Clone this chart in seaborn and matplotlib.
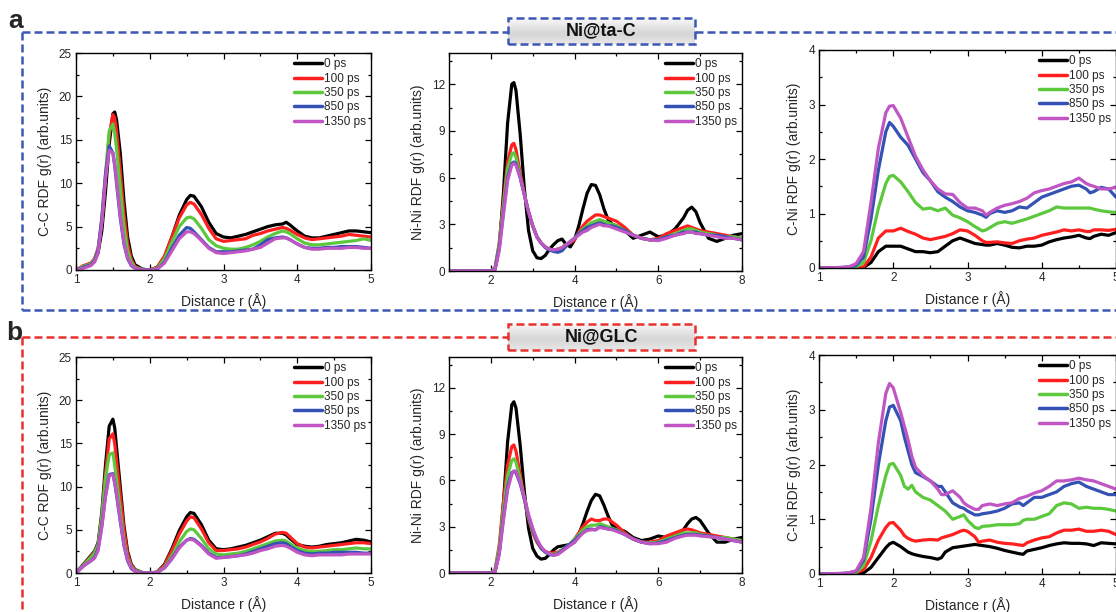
import numpy as np
import pandas as pd
import matplotlib
matplotlib.use("Agg")
import matplotlib.pyplot as plt
import seaborn as sns
from matplotlib.lines import Line2D
from matplotlib.patches import Rectangle
from matplotlib.ticker import MultipleLocator

# ---------------- data ----------------
times = ["0 ps", "100 ps", "350 ps", "850 ps", "1350 ps"]
colors = ["#000000", "#ff1f1f", "#5cc83c", "#3352b3", "#c056c4"]

# C-C RDF (shared r grid for both systems)
cc_r = [1.0, 1.1, 1.2, 1.25, 1.3, 1.35, 1.4, 1.45, 1.5, 1.525, 1.55, 1.6, 1.65, 1.7, 1.75, 1.8, 1.9, 2.0, 2.1, 2.2,
        2.3, 2.4, 2.5, 2.55, 2.6, 2.7, 2.8, 2.9, 3.0, 3.1, 3.2, 3.3, 3.4, 3.5, 3.6, 3.7, 3.8, 3.85, 3.9, 4.0,
        4.1, 4.2, 4.3, 4.4, 4.5, 4.6, 4.7, 4.8, 4.9, 5.0]
cc_tac_0 = [0, 0.3, 0.6, 1.0, 2.0, 4.5, 9.0, 14.5, 18.0, 18.2, 17.3, 13.5, 8.0, 3.8, 1.6, 0.6, 0.1, 0.0, 0.3, 1.5,
            3.8, 6.3, 8.1, 8.6, 8.5, 7.3, 5.5, 4.2, 3.8, 3.7, 3.9, 4.1, 4.4, 4.7, 5.0, 5.2, 5.3, 5.5, 5.2, 4.5,
            3.9, 3.7, 3.7, 3.9, 4.1, 4.3, 4.5, 4.5, 4.4, 4.3]
cc_tac_100 = [0, 0.5, 0.8, 1.3, 2.5, 5.5, 10.5, 15.5, 17.9, 17.5, 16.0, 11.5, 6.5, 3.0, 1.2, 0.4, 0.05, 0.0, 0.3, 1.6,
              3.8, 6.0, 7.5, 7.8, 7.6, 6.4, 4.8, 3.6, 3.3, 3.4, 3.5, 3.6, 4.0, 4.2, 4.5, 4.7, 4.9, 4.8, 4.6, 4.1,
              3.7, 3.5, 3.6, 3.7, 3.8, 3.9, 4.1, 4.0, 3.9, 3.8]
cc_tac_350 = [0, 0.4, 0.7, 1.2, 2.4, 5.8, 11.0, 16.0, 16.8, 15.8, 14.0, 9.5, 5.0, 2.2, 0.9, 0.3, 0.05, 0.0, 0.2, 1.3,
              3.2, 5.0, 6.0, 6.1, 5.9, 4.8, 3.5, 2.8, 2.5, 2.4, 2.4, 2.6, 2.9, 3.3, 3.8, 4.2, 4.5, 4.4, 4.2, 3.6,
              3.1, 2.9, 2.9, 3.0, 3.1, 3.2, 3.3, 3.4, 3.6, 3.4]
cc_tac_850 = [0, 0.3, 0.6, 1.0, 2.3, 6.0, 11.0, 14.3, 13.5, 12.0, 10.0, 6.0, 3.0, 1.3, 0.5, 0.2, 0.0, 0.0, 0.1, 0.9,
              2.5, 4.0, 4.9, 4.8, 4.4, 3.5, 2.6, 2.1, 2.1, 2.1, 2.2, 2.3, 2.4, 2.9, 3.5, 3.7, 3.8, 3.7, 3.5, 3.0,
              2.6, 2.5, 2.5, 2.6, 2.6, 2.7, 2.7, 2.7, 2.6, 2.5]
cc_tac_1350 = [0, 0.2, 0.5, 0.9, 2.0, 5.5, 10.5, 13.8, 13.5, 12.2, 10.3, 6.3, 3.2, 1.4, 0.6, 0.2, 0.0, 0.0, 0.1, 0.8,
               2.2, 3.6, 4.4, 4.4, 4.2, 3.4, 2.5, 2.0, 1.9, 2.0, 2.1, 2.2, 2.4, 2.6, 3.1, 3.6, 3.7, 3.7, 3.5, 3.0,
               2.6, 2.4, 2.4, 2.5, 2.5, 2.5, 2.6, 2.6, 2.5, 2.5]
cc_glc_0 = [0, 1.0, 2.0, 2.5, 3.5, 7.0, 12.5, 17.0, 17.8, 16.8, 14.5, 10.0, 5.5, 2.5, 1.0, 0.4, 0.05, 0.0, 0.1, 1.0,
            2.8, 4.9, 6.5, 7.0, 6.9, 5.6, 3.8, 2.8, 2.7, 2.8, 3.0, 3.2, 3.5, 3.8, 4.2, 4.6, 4.6, 4.4, 4.0, 3.3,
            3.1, 3.0, 3.1, 3.3, 3.4, 3.5, 3.7, 3.9, 3.8, 3.6]
cc_glc_100 = [0, 0.9, 1.9, 2.4, 3.3, 6.5, 11.5, 15.5, 16.1, 15.0, 13.0, 9.0, 5.0, 2.2, 0.9, 0.3, 0.05, 0.0, 0.1, 0.9,
              2.6, 4.5, 6.0, 6.5, 6.4, 5.1, 3.5, 2.6, 2.6, 2.7, 2.8, 3.0, 3.3, 3.6, 4.0, 4.5, 4.7, 4.6, 4.2, 3.4,
              3.0, 2.9, 3.0, 3.1, 3.2, 3.3, 3.4, 3.5, 3.5, 3.4]
cc_glc_350 = [0, 0.9, 1.8, 2.3, 3.3, 6.5, 11.0, 13.7, 13.9, 12.5, 10.8, 7.2, 3.8, 1.7, 0.7, 0.3, 0.05, 0.0, 0.1, 0.7,
              2.0, 3.6, 4.8, 5.1, 5.0, 4.0, 2.8, 2.2, 2.1, 2.2, 2.3, 2.5, 2.8, 3.1, 3.4, 3.7, 3.8, 3.7, 3.4, 2.9,
              2.6, 2.5, 2.5, 2.6, 2.7, 2.7, 2.8, 2.9, 2.8, 2.8]
cc_glc_850 = [0, 0.8, 1.4, 1.8, 2.8, 5.5, 9.0, 11.4, 11.5, 10.4, 9.0, 6.0, 3.2, 1.4, 0.5, 0.2, 0.0, 0.0, 0.05, 0.6,
              1.7, 3.0, 3.8, 4.0, 3.9, 3.2, 2.3, 1.8, 1.8, 1.9, 2.0, 2.2, 2.5, 2.8, 3.1, 3.4, 3.5, 3.4, 3.1, 2.6,
              2.3, 2.2, 2.3, 2.3, 2.4, 2.4, 2.4, 2.4, 2.3, 2.3]
cc_glc_1350 = [0, 0.8, 1.4, 1.7, 2.6, 5.3, 8.8, 11.3, 11.4, 10.5, 9.2, 6.2, 3.3, 1.5, 0.6, 0.2, 0.0, 0.0, 0.05, 0.6,
               1.6, 2.9, 3.8, 3.9, 3.8, 3.1, 2.2, 1.7, 1.8, 1.9, 2.0, 2.1, 2.3, 2.6, 2.8, 3.1, 3.2, 3.1, 2.9, 2.4,
               2.1, 2.0, 2.1, 2.1, 2.1, 2.1, 2.2, 2.2, 2.2, 2.2]

# Ni-Ni RDF
nn_r = [1.0, 2.0, 2.1, 2.2, 2.3, 2.4, 2.5, 2.55, 2.6, 2.7, 2.8, 2.9, 3.0, 3.1, 3.2, 3.3, 3.4, 3.5, 3.6, 3.7,
        3.8, 3.9, 4.0, 4.1, 4.2, 4.3, 4.4, 4.5, 4.6, 4.7, 4.8, 4.9, 5.0, 5.2, 5.4, 5.6, 5.8, 6.0, 6.2, 6.4,
        6.6, 6.7, 6.8, 6.9, 7.0, 7.2, 7.4, 7.6, 7.8, 8.0]
nn_tac_0 = [0, 0, 0.1, 1.5, 5.0, 9.5, 12.0, 12.1, 11.6, 8.8, 5.3, 2.6, 1.3, 0.85, 0.8, 1.0, 1.4, 1.7, 1.95, 2.05,
            1.7, 1.55, 2.0, 2.9, 4.0, 5.0, 5.55, 5.5, 4.9, 4.0, 3.3, 3.0, 2.9, 2.6, 2.1, 2.3, 2.5, 2.2, 2.3, 2.7,
            3.4, 3.9, 4.1, 3.8, 3.1, 2.1, 1.9, 2.1, 2.3, 2.4]
nn_tac_100 = [0, 0, 0.2, 1.8, 4.5, 7.0, 8.1, 8.2, 7.8, 6.3, 4.9, 3.8, 2.9, 2.2, 1.8, 1.55, 1.4, 1.35, 1.4, 1.5,
              1.7, 1.8, 2.0, 2.5, 2.9, 3.2, 3.4, 3.6, 3.6, 3.5, 3.4, 3.3, 3.2, 2.8, 2.3, 2.1, 2.0, 2.1, 2.4, 2.6,
              2.8, 2.9, 2.8, 2.7, 2.6, 2.5, 2.4, 2.3, 2.2, 2.1]
nn_tac_350 = [0, 0, 0.2, 1.7, 4.2, 6.6, 7.5, 7.6, 7.3, 6.1, 4.9, 3.8, 2.9, 2.2, 1.8, 1.55, 1.4, 1.35, 1.4, 1.5,
              1.7, 1.9, 2.1, 2.4, 2.7, 2.9, 3.1, 3.2, 3.3, 3.2, 3.1, 3.0, 2.9, 2.6, 2.3, 2.1, 2.0, 2.0, 2.2, 2.4,
              2.6, 2.7, 2.7, 2.6, 2.5, 2.4, 2.3, 2.2, 2.2, 2.1]
nn_tac_850 = [0, 0, 0.15, 1.5, 3.8, 6.0, 6.9, 7.0, 6.9, 6.0, 4.9, 3.8, 2.9, 2.2, 1.8, 1.5, 1.35, 1.25, 1.2, 1.3,
              1.6, 1.9, 2.1, 2.4, 2.6, 2.8, 2.9, 3.0, 3.1, 3.0, 2.9, 2.9, 2.8, 2.6, 2.3, 2.1, 2.0, 2.0, 2.2, 2.3,
              2.5, 2.5, 2.5, 2.5, 2.4, 2.3, 2.3, 2.2, 2.1, 2.0]
nn_tac_1350 = [0, 0, 0.1, 1.3, 3.6, 5.8, 6.8, 6.9, 6.8, 6.0, 4.9, 3.8, 2.9, 2.2, 1.8, 1.55, 1.4, 1.35, 1.4, 1.5,
               1.7, 1.9, 2.1, 2.3, 2.5, 2.6, 2.8, 2.9, 3.0, 2.9, 2.9, 2.8, 2.7, 2.5, 2.3, 2.1, 2.0, 1.95, 2.1, 2.3,
               2.4, 2.5, 2.5, 2.4, 2.4, 2.3, 2.2, 2.1, 2.1, 2.0]
nn_glc_0 = [0, 0, 0.1, 1.3, 4.5, 8.5, 10.9, 11.1, 10.7, 8.3, 5.3, 2.9, 1.6, 1.1, 0.9, 0.95, 1.2, 1.5, 1.7, 1.75,
            1.8, 1.85, 2.0, 2.5, 3.2, 4.0, 4.7, 5.1, 5.0, 4.4, 3.7, 3.1, 2.9, 2.7, 2.3, 2.1, 2.2, 2.4, 2.3, 2.4,
            2.8, 3.2, 3.5, 3.6, 3.4, 2.6, 2.0, 2.0, 2.2, 2.3]
nn_glc_100 = [0, 0, 0.2, 1.8, 4.6, 7.0, 8.2, 8.3, 7.9, 6.4, 4.8, 3.5, 2.6, 2.0, 1.6, 1.4, 1.3, 1.3, 1.35, 1.5,
              1.7, 1.9, 2.2, 2.6, 3.0, 3.3, 3.5, 3.4, 3.4, 3.5, 3.5, 3.3, 3.1, 2.6, 2.2, 2.0, 2.0, 2.1, 2.4, 2.6,
              2.8, 2.85, 2.8, 2.7, 2.6, 2.5, 2.4, 2.3, 2.2, 2.1]
nn_glc_350 = [0, 0, 0.2, 1.6, 4.1, 6.3, 7.3, 7.4, 7.2, 6.1, 4.8, 3.6, 2.7, 2.1, 1.6, 1.35, 1.25, 1.2, 1.3, 1.5,
              1.7, 1.9, 2.2, 2.5, 2.8, 3.0, 3.1, 3.1, 3.2, 3.1, 3.0, 2.9, 2.8, 2.5, 2.2, 2.0, 1.95, 2.0, 2.2, 2.4,
              2.6, 2.6, 2.6, 2.6, 2.5, 2.4, 2.3, 2.3, 2.2, 2.1]
nn_glc_850 = [0, 0, 0.1, 1.3, 3.6, 5.6, 6.5, 6.6, 6.5, 5.8, 4.8, 3.7, 2.8, 2.1, 1.6, 1.35, 1.2, 1.15, 1.25, 1.45,
              1.7, 1.9, 2.1, 2.4, 2.6, 2.8, 2.85, 2.8, 3.0, 2.95, 2.85, 2.85, 2.75, 2.5, 2.2, 2.0, 1.9, 1.95, 2.1, 2.3,
              2.45, 2.5, 2.5, 2.5, 2.45, 2.4, 2.3, 2.2, 2.1, 2.0]
nn_glc_1350 = [0, 0, 0.1, 1.2, 3.4, 5.4, 6.4, 6.6, 6.6, 5.9, 4.9, 3.8, 2.9, 2.2, 1.7, 1.4, 1.25, 1.15, 1.2, 1.4,
               1.6, 1.8, 2.0, 2.3, 2.6, 2.75, 2.8, 2.8, 2.95, 2.9, 2.85, 2.8, 2.7, 2.5, 2.2, 2.0, 1.9, 1.9, 2.0, 2.25,
               2.4, 2.45, 2.45, 2.45, 2.4, 2.35, 2.3, 2.2, 2.1, 2.0]

# C-Ni RDF, Ni@ta-C
cn_tac_r = [1.0, 1.3, 1.4, 1.5, 1.6, 1.7, 1.8, 1.9, 1.95, 2.0, 2.1, 2.2, 2.3, 2.4, 2.5, 2.6, 2.7, 2.8, 2.9, 3.0,
            3.1, 3.2, 3.25, 3.3, 3.4, 3.5, 3.6, 3.7, 3.8, 3.9, 4.0, 4.1, 4.2, 4.3, 4.4, 4.5, 4.6, 4.65, 4.7, 4.8,
            4.9, 5.0]
cn_tac_0 = [0, 0, 0, 0, 0.01, 0.1, 0.3, 0.4, 0.4, 0.4, 0.4, 0.35, 0.3, 0.3, 0.28, 0.3, 0.4, 0.5, 0.55, 0.5,
            0.45, 0.43, 0.42, 0.42, 0.45, 0.42, 0.38, 0.37, 0.4, 0.4, 0.42, 0.48, 0.52, 0.55, 0.57, 0.6, 0.55, 0.54,
            0.58, 0.62, 0.6, 0.65]
cn_tac_100 = [0, 0, 0, 0, 0.02, 0.2, 0.55, 0.68, 0.68, 0.68, 0.73, 0.67, 0.62, 0.55, 0.52, 0.55, 0.58, 0.63, 0.7,
              0.68, 0.6, 0.5, 0.47, 0.47, 0.48, 0.46, 0.45, 0.5, 0.53, 0.55, 0.6, 0.63, 0.66, 0.7, 0.68, 0.7, 0.67,
              0.67, 0.7, 0.7, 0.69, 0.71]
cn_tac_350 = [0, 0, 0.01, 0.02, 0.1, 0.5, 1.1, 1.55, 1.68, 1.7, 1.58, 1.4, 1.2, 1.08, 1.1, 1.05, 1.1, 0.97, 0.92,
              0.85, 0.76, 0.68, 0.7, 0.74, 0.82, 0.85, 0.82, 0.86, 0.9, 0.95, 1.0, 1.05, 1.12, 1.1, 1.1, 1.1, 1.1,
              1.1, 1.08, 1.05, 1.03, 1.02]
cn_tac_850 = [0, 0.01, 0.02, 0.05, 0.2, 0.9, 1.8, 2.5, 2.67, 2.6, 2.4, 2.25, 2.0, 1.75, 1.6, 1.4, 1.3, 1.22, 1.12,
              1.05, 1.02, 0.97, 0.93, 1.0, 1.05, 1.02, 1.05, 1.12, 1.1, 1.2, 1.3, 1.35, 1.4, 1.45, 1.5, 1.52, 1.45,
              1.38, 1.4, 1.48, 1.45, 1.3]
cn_tac_1350 = [0, 0.01, 0.02, 0.08, 0.3, 1.2, 2.2, 2.85, 2.97, 2.98, 2.75, 2.4, 2.05, 1.8, 1.6, 1.45, 1.36, 1.35,
               1.2, 1.1, 1.1, 1.05, 0.97, 1.02, 1.1, 1.15, 1.18, 1.22, 1.28, 1.38, 1.42, 1.45, 1.5, 1.55, 1.58, 1.65,
               1.55, 1.52, 1.5, 1.45, 1.45, 1.48]

# C-Ni RDF, Ni@GLC
cn_glc_r = [1.0, 1.3, 1.4, 1.5, 1.6, 1.7, 1.8, 1.9, 1.95, 2.0, 2.1, 2.15, 2.2, 2.25, 2.3, 2.4, 2.5, 2.6, 2.65, 2.7,
            2.8, 2.9, 2.95, 3.0, 3.1, 3.15, 3.2, 3.3, 3.4, 3.5, 3.6, 3.7, 3.75, 3.8, 3.9, 4.0, 4.1, 4.2, 4.3, 4.4,
            4.5, 4.6, 4.7, 4.8, 4.9, 5.0]
cn_glc_0 = [0, 0, 0, 0, 0.02, 0.12, 0.3, 0.48, 0.55, 0.58, 0.5, 0.45, 0.4, 0.37, 0.35, 0.32, 0.3, 0.27, 0.3, 0.4,
            0.48, 0.5, 0.51, 0.52, 0.54, 0.53, 0.52, 0.5, 0.47, 0.43, 0.4, 0.37, 0.36, 0.42, 0.45, 0.48, 0.52, 0.55,
            0.57, 0.56, 0.56, 0.55, 0.52, 0.57, 0.56, 0.55]
cn_glc_100 = [0, 0, 0, 0.02, 0.08, 0.3, 0.62, 0.85, 0.93, 0.94, 0.8, 0.7, 0.65, 0.62, 0.6, 0.62, 0.63, 0.62, 0.66,
              0.68, 0.72, 0.78, 0.8, 0.78, 0.68, 0.58, 0.6, 0.62, 0.58, 0.56, 0.55, 0.53, 0.52, 0.57, 0.62, 0.66,
              0.68, 0.75, 0.8, 0.8, 0.82, 0.78, 0.78, 0.8, 0.78, 0.72]
cn_glc_350 = [0, 0, 0.01, 0.03, 0.15, 0.6, 1.25, 1.8, 2.0, 2.02, 1.8, 1.6, 1.55, 1.62, 1.5, 1.4, 1.35, 1.25, 1.2,
              1.15, 1.0, 1.05, 1.08, 0.98, 0.85, 0.83, 0.87, 0.88, 0.9, 0.9, 0.9, 0.92, 0.98, 1.0, 1.0, 1.05, 1.1,
              1.25, 1.3, 1.28, 1.2, 1.22, 1.2, 1.2, 1.18, 1.15]
cn_glc_850 = [0, 0.01, 0.02, 0.05, 0.25, 1.0, 2.0, 2.8, 3.05, 3.08, 2.8, 2.5, 2.25, 2.0, 1.85, 1.78, 1.7, 1.6, 1.6,
              1.5, 1.3, 1.22, 1.2, 1.15, 1.08, 1.08, 1.1, 1.12, 1.15, 1.2, 1.28, 1.3, 1.25, 1.3, 1.4, 1.4, 1.45,
              1.5, 1.6, 1.65, 1.68, 1.6, 1.55, 1.5, 1.45, 1.45]
cn_glc_1350 = [0, 0.01, 0.02, 0.06, 0.3, 1.2, 2.4, 3.3, 3.48, 3.4, 2.95, 2.7, 2.45, 2.15, 1.95, 1.8, 1.7, 1.55,
               1.45, 1.45, 1.52, 1.4, 1.3, 1.25, 1.18, 1.18, 1.25, 1.28, 1.25, 1.28, 1.3, 1.38, 1.4, 1.42, 1.48,
               1.52, 1.6, 1.7, 1.7, 1.72, 1.75, 1.72, 1.7, 1.65, 1.6, 1.55]

# ---------------- style ----------------
sns.set_style("ticks")
plt.rcParams["font.family"] = ["Liberation Sans", "DejaVu Sans"]
plt.rcParams["axes.linewidth"] = 1.0

W, H = 1116, 612
fig = plt.figure(figsize=(W / 100, H / 100), dpi=100)


def px_axes(l, t, r, b):
    return fig.add_axes([l / W, 1 - b / H, (r - l) / W, (b - t) / H])


def long_df(r, series):
    frames = []
    for lab, ys in zip(times, series):
        frames.append(pd.DataFrame({"r": r, "g": ys, "t": lab}))
    return pd.concat(frames, ignore_index=True)


panels = [
    ((76, 53, 371, 270), cc_r, [cc_tac_0, cc_tac_100, cc_tac_350, cc_tac_850, cc_tac_1350],
     "C-C RDF g(r) (arb.units)", (1, 5), 1, 0.5, (0, 25), 5, 2.5),
    ((449, 53, 742, 271), nn_r, [nn_tac_0, nn_tac_100, nn_tac_350, nn_tac_850, nn_tac_1350],
     "Ni-Ni RDF g(r) (arb.units)", (1, 8), 2, 1, (0, 14), 3, 1.5),
    ((819, 50, 1116, 268), cn_tac_r, [cn_tac_0, cn_tac_100, cn_tac_350, cn_tac_850, cn_tac_1350],
     "C-Ni RDF g(r) (arb.units)", (1, 5), 1, 0.5, (0, 4), 1, 0.5),
    ((76, 357, 371, 573), cc_r, [cc_glc_0, cc_glc_100, cc_glc_350, cc_glc_850, cc_glc_1350],
     "C-C RDF g(r) (arb.units)", (1, 5), 1, 0.5, (0, 25), 5, 2.5),
    ((449, 357, 742, 573), nn_r, [nn_glc_0, nn_glc_100, nn_glc_350, nn_glc_850, nn_glc_1350],
     "Ni-Ni RDF g(r) (arb.units)", (1, 8), 2, 1, (0, 14), 3, 1.5),
    ((819, 355, 1116, 574), cn_glc_r, [cn_glc_0, cn_glc_100, cn_glc_350, cn_glc_850, cn_glc_1350],
     "C-Ni RDF g(r) (arb.units)", (1, 5), 1, 0.5, (0, 4), 1, 0.5),
]

palette = dict(zip(times, colors))

for box, r, series, ylab, xlim, xmaj, xmin, ylim, ymaj, ymin in panels:
    ax = px_axes(*box)
    df = long_df(r, series)
    sns.lineplot(data=df, x="r", y="g", hue="t", hue_order=times, palette=palette,
                 estimator=None, lw=2.3, ax=ax, legend=True)
    ax.set_xlim(*xlim)
    ax.set_ylim(*ylim)
    ax.xaxis.set_major_locator(MultipleLocator(xmaj))
    ax.xaxis.set_minor_locator(MultipleLocator(xmin))
    ax.yaxis.set_major_locator(MultipleLocator(ymaj))
    ax.yaxis.set_minor_locator(MultipleLocator(ymin))
    ax.tick_params(which="both", direction="in", top=True, right=True, labelsize=8.5, pad=3,
                   width=0.9, color="black")
    ax.tick_params(which="major", length=4.5)
    ax.tick_params(which="minor", length=2.5)
    ax.set_xlabel("Distance r (Å)", fontsize=10, labelpad=5)
    ax.set_ylabel(ylab, fontsize=10, labelpad=5)
    for s in ax.spines.values():
        s.set_color("black")
    handles, labels = ax.get_legend_handles_labels()
    for h in handles:
        h.set_linewidth(2.5)
    ax.legend(handles, labels, loc="upper right", frameon=False, fontsize=8.5,
              handlelength=2.4, handletextpad=0.15, labelspacing=0.2,
              borderaxespad=0.25, borderpad=0.2)


# ---------------- dashed frames and title boxes ----------------
def fline(x0, y0, x1, y1, color):
    fig.add_artist(Line2D([x0 / W, x1 / W], [1 - y0 / H, 1 - y1 / H], color=color, lw=1.8,
                          dashes=(3.2, 1.6), transform=fig.transFigure, clip_on=False))


def title_box(l, t, r, b, text, color):
    bax = fig.add_axes([l / W, 1 - b / H, (r - l) / W, (b - t) / H])
    grad = np.concatenate([np.linspace(0.97, 0.84, 12), np.linspace(0.84, 0.90, 8)])[:, None]
    bax.imshow(np.repeat(grad, 4, axis=1), cmap="gray", vmin=0, vmax=1, aspect="auto",
               extent=[0, 1, 0, 1], origin="upper")
    bax.set_xlim(0, 1)
    bax.set_ylim(0, 1)
    bax.axis("off")
    fig.add_artist(Rectangle((l / W, 1 - b / H), (r - l) / W, (b - t) / H, fill=False,
                             edgecolor=color, lw=1.8, linestyle=(0, (3.2, 1.6)),
                             transform=fig.transFigure))
    fig.text((l + r) / 2 / W, 1 - (t + b) / 2 / H, text, ha="center", va="center",
             fontsize=13, fontweight="bold", color="#111111")


blue = "#3b57b6"
red = "#e8312e"
fline(22, 32, 508, 32, blue)
fline(695, 32, 1118, 32, blue)
fline(22, 32, 22, 310, blue)
fline(22, 310, 1118, 310, blue)
title_box(508, 18, 695, 44, "Ni@ta-C", blue)

fline(22, 337, 508, 337, red)
fline(695, 337, 1118, 337, red)
fline(22, 337, 22, 614, red)
title_box(508, 324, 695, 350, "Ni@GLC", red)

fig.text(8 / W, 1 - 28 / H, "a", fontsize=19, fontweight="bold", ha="left", va="baseline")
fig.text(6 / W, 1 - 340 / H, "b", fontsize=19, fontweight="bold", ha="left", va="baseline")

fig.savefig("out.png", dpi=100)
